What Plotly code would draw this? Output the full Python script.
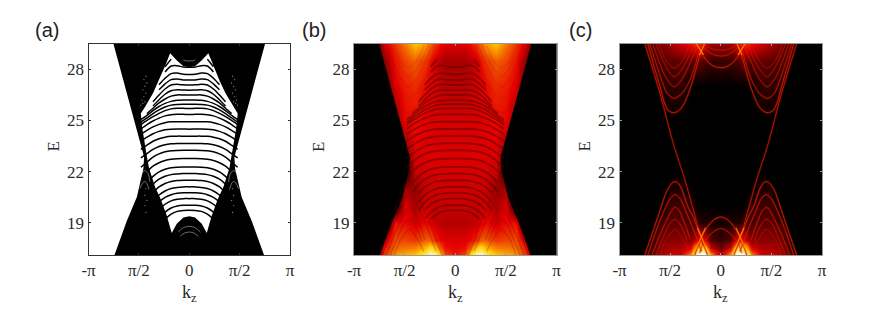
import plotly.graph_objects as go

# k is in units of pi, every curve is stored for k >= 0 and mirrored when drawn
tick_k = [-1, -0.5, 0, 0.5, 1]
tick_k_text = ["-π", "π/2", "0", "π/2", "π"]
tick_e = [19, 22, 25, 28]
panel_names = ["(a)", "(b)", "(c)"]

# edge of the filled hourglass
outer_k = [0.752, 0.683, 0.547, 0.448, 0.455, 0.52, 0.62, 0.742]
outer_e = [29.49, 27.96, 25.0, 22.86, 22.18, 20.5, 19.1, 17.1]

# edge of the gapped window in the middle
inner_k = [0.0, 0.06, 0.12, 0.19, 0.24, 0.30, 0.36, 0.438, 0.481, 0.465, 0.44, 0.415,
           0.398, 0.339, 0.285, 0.223, 0.174, 0.124, 0.058, 0.0]
inner_e = [28.12, 28.2, 28.5, 28.94, 28.2, 27.35, 26.6, 25.8, 25.41, 24.5, 23.65, 22.7,
           22.18, 21.1, 20.4, 19.4, 18.39, 18.94, 19.3, 19.37]

# sub-bands inside the window, one row per band
band_k = [0, 0.06, 0.12, 0.18, 0.24, 0.30, 0.36, 0.42, 0.48]
band_e = [
    [None, None, None, 28.6, 28.15, None, None, None, None],
    [28.12, 28.14, 28.22, 28.2, 27.85, None, None, None, None],
    [27.70, 27.72, 27.78, 27.75, 27.48, 27.1, None, None, None],
    [27.37, 27.38, 27.43, 27.4, 27.15, 26.8, None, None, None],
    [27.08, 27.09, 27.12, 27.08, 26.85, 26.5, 26.1, None, None],
    [26.78, 26.79, 26.8, 26.74, 26.54, 26.22, 25.85, None, None],
    [26.49, 26.5, 26.5, 26.43, 26.26, 26.03, 25.72, 25.4, None],
    [26.2, 26.2, 26.18, 26.12, 26.0, 25.82, 25.58, 25.3, 25.05],
    [25.95, 25.95, 25.94, 25.9, 25.79, 25.62, 25.4, 25.15, 24.9],
    [25.7, 25.71, 25.71, 25.68, 25.58, 25.42, 25.22, 25.0, 24.75],
    [25.35, 25.36, 25.36, 25.34, 25.27, 25.14, 24.97, 24.76, 24.5],
    [24.92, 24.93, 24.93, 24.92, 24.87, 24.77, 24.62, 24.42, 24.2],
    [24.49, 24.5, 24.5, 24.49, 24.45, 24.36, 24.22, 24.02, 23.8],
    [24.08, 24.08, 24.08, 24.07, 24.02, 23.93, 23.78, 23.55, 23.3],
    [23.65, 23.65, 23.65, 23.63, 23.58, 23.47, 23.3, 23.05, 22.8],
    [23.25, 23.25, 23.24, 23.22, 23.16, 23.04, 22.85, 22.55, 22.25],
    [22.76, 22.76, 22.75, 22.72, 22.65, 22.52, 22.32, 22.0, None],
    [22.27, 22.27, 22.26, 22.22, 22.14, 21.98, 21.72, 21.35, None],
    [21.88, 21.88, 21.86, 21.82, 21.72, 21.55, 21.25, 20.8, None],
    [21.49, 21.49, 21.47, 21.42, 21.3, 21.1, 20.75, None, None],
    [21.1, 21.1, 21.07, 21.0, 20.86, 20.62, 20.2, None, None],
    [20.75, 20.75, 20.72, 20.64, 20.48, 20.2, 19.7, None, None],
    [20.41, 20.41, 20.37, 20.28, 20.08, 19.75, None, None, None],
    [20.02, 20.02, 19.98, 19.86, 19.62, 19.25, None, None, None],
    [19.73, 19.72, 19.66, 19.5, 19.2, None, None, None, None],
]

# white hairlines left in the black parts of (a)
gap_k = [
    [0.0, 0.03, 0.06],
    [0.0, 0.06, 0.11],
    [0.0, 0.05, 0.09],
    [0.50, 0.46, 0.44, 0.41, 0.39],
    [0.49, 0.46, 0.44, 0.42, 0.40],
]
gap_e = [
    [28.5, 28.5, 28.56],
    [18.78, 18.7, 18.45],
    [18.45, 18.38, 18.2],
    [21.55, 22.0, 22.05, 21.9, 21.4],
    [21.0, 21.35, 21.42, 21.3, 20.95],
]
speck_k = [0.43, 0.45, 0.42, 0.44, 0.46, 0.43, 0.45, 0.47, 0.44, 0.46, 0.48, 0.43, 0.44, 0.42, 0.44, 0.43]
speck_e = [27.6, 27.4, 27.2, 27.0, 26.8, 26.6, 26.4, 26.2, 26.1, 26.0, 25.9, 21.0, 20.6, 20.3, 20.0, 19.6]

# arches and dishes of panel (c), (b) shows the same ones faintly
curve_k = [
    [0.749, 0.60, 0.469, 0.353, 0.27, 0.19, 0.10, 0.0],
    [0.75, 0.68, 0.60, 0.53, 0.47, 0.43, 0.38, 0.33, 0.27, 0.19, 0.13],
    [0.72, 0.64, 0.56, 0.50, 0.45, 0.40, 0.34, 0.27, 0.19],
    [0.68, 0.60, 0.53, 0.48, 0.45, 0.41, 0.36, 0.30],
    [0.64, 0.57, 0.51, 0.45, 0.39, 0.33],
    [0.60, 0.54, 0.45, 0.37, 0.31],
    [0.0, 0.06, 0.12, 0.19, 0.257],
    [0.0, 0.06, 0.12, 0.17, 0.21],
    [0.72, 0.65, 0.60, 0.56, 0.52, 0.47, 0.42, 0.37, 0.30, 0.25, 0.19],
    [0.70, 0.63, 0.58, 0.53, 0.46, 0.38, 0.31, 0.25, 0.20],
    [0.67, 0.60, 0.54, 0.46, 0.38, 0.31, 0.25, 0.21],
    [0.64, 0.57, 0.52, 0.46, 0.39, 0.32, 0.26],
    [0.61, 0.54, 0.46, 0.38, 0.31],
    [0.0, 0.06, 0.12, 0.19, 0.24],
    [0.0, 0.06, 0.12, 0.17, 0.22],
    [0.0, 0.06, 0.11, 0.16, 0.20],
]
curve_e = [
    [29.49, 26.59, 23.65, 21.49, 19.73, 18.15, 17.45, 17.2],
    [17.1, 18.3, 19.7, 20.9, 21.38, 21.38, 20.9, 20.0, 19.3, 18.0, 17.1],
    [17.1, 18.5, 19.7, 20.4, 20.65, 20.4, 19.6, 18.6, 17.3],
    [17.1, 18.3, 19.2, 19.75, 19.9, 19.7, 19.0, 18.0],
    [17.1, 18.1, 18.9, 19.2, 18.8, 17.9],
    [17.1, 18.0, 18.6, 18.0, 17.3],
    [19.33, 19.2, 18.85, 18.15, 17.1],
    [18.66, 18.52, 18.2, 17.8, 17.2],
    [29.49, 28.0, 27.0, 26.1, 25.6, 25.45, 25.55, 25.9, 26.9, 27.9, 29.2],
    [29.49, 28.2, 27.3, 26.6, 26.3, 26.6, 27.3, 28.3, 29.4],
    [29.49, 28.3, 27.5, 26.97, 27.45, 28.3, 29.1, 29.49],
    [29.49, 28.5, 27.95, 27.56, 27.95, 28.7, 29.49],
    [29.49, 28.5, 28.08, 28.5, 29.4],
    [28.1, 28.16, 28.4, 28.94, 29.49],
    [28.78, 28.84, 29.03, 29.3, 29.49],
    [29.13, 29.16, 29.27, 29.42, 29.49],
]
curve_alpha = [0.75, 0.85, 0.75, 0.65, 0.5, 0.35, 0.9, 0.65, 0.85, 0.7, 0.6, 0.5, 0.4, 0.85, 0.65, 0.55]

# hot crossings of (c)
cross_k = [
    [0.16, 0.21],
    [0.24, 0.17],
    [0.15, 0.23],
    [0.25, 0.15],
]
cross_e = [
    [29.49, 28.85],
    [29.49, 28.85],
    [17.6, 18.7],
    [17.4, 18.7],
]

# colour map values, rows go up in energy
heat_k = [0, 0.1, 0.15, 0.2, 0.25, 0.3, 0.4, 0.5, 0.6, 0.7, 0.8, 1.0]
heat_e = [17.1, 17.5, 18, 19, 20, 21, 22, 23, 25, 27, 28.5, 29.49]
heat_b = [
    [0.36, 0.45, 0.7, 0.9, 0.95, 0.8, 0.65, 0.62, 0.58, 0.42, 0.0, 0.0],
    [0.34, 0.36, 0.48, 0.66, 0.72, 0.62, 0.54, 0.52, 0.5, 0.36, 0.0, 0.0],
    [0.32, 0.32, 0.34, 0.4, 0.48, 0.48, 0.42, 0.44, 0.45, 0.27, 0.0, 0.0],
    [0.26, 0.26, 0.27, 0.28, 0.32, 0.35, 0.3, 0.35, 0.36, 0.0, 0.0, 0.0],
    [0.29, 0.29, 0.29, 0.28, 0.29, 0.3, 0.24, 0.32, 0.0, 0.0, 0.0, 0.0],
    [0.3, 0.3, 0.3, 0.3, 0.3, 0.28, 0.22, 0.24, 0.0, 0.0, 0.0, 0.0],
    [0.31, 0.31, 0.31, 0.31, 0.31, 0.31, 0.29, 0.0, 0.0, 0.0, 0.0, 0.0],
    [0.32, 0.32, 0.32, 0.32, 0.32, 0.32, 0.32, 0.18, 0.0, 0.0, 0.0, 0.0],
    [0.31, 0.31, 0.31, 0.31, 0.32, 0.33, 0.35, 0.34, 0.2, 0.0, 0.0, 0.0],
    [0.27, 0.27, 0.28, 0.3, 0.32, 0.35, 0.4, 0.38, 0.32, 0.1, 0.0, 0.0],
    [0.24, 0.24, 0.26, 0.3, 0.36, 0.42, 0.48, 0.44, 0.36, 0.2, 0.0, 0.0],
    [0.32, 0.32, 0.35, 0.42, 0.5, 0.58, 0.65, 0.52, 0.42, 0.3, 0.0, 0.0],
]
heat_c = [
    [0.25, 0.6, 1.0, 1.0, 0.95, 0.55, 0.3, 0.3, 0.25, 0.1, 0.0, 0.0],
    [0.15, 0.3, 0.72, 0.8, 0.62, 0.32, 0.25, 0.25, 0.2, 0.05, 0.0, 0.0],
    [0.08, 0.12, 0.3, 0.38, 0.28, 0.18, 0.2, 0.2, 0.16, 0.02, 0.0, 0.0],
    [0.03, 0.04, 0.05, 0.06, 0.08, 0.1, 0.13, 0.13, 0.08, 0.0, 0.0, 0.0],
    [0.0, 0.0, 0.0, 0.0, 0.02, 0.05, 0.09, 0.09, 0.0, 0.0, 0.0, 0.0],
    [0.0, 0.0, 0.0, 0.0, 0.0, 0.0, 0.04, 0.04, 0.0, 0.0, 0.0, 0.0],
    [0.0, 0.0, 0.0, 0.0, 0.0, 0.0, 0.0, 0.0, 0.0, 0.0, 0.0, 0.0],
    [0.0, 0.0, 0.0, 0.0, 0.0, 0.0, 0.0, 0.0, 0.0, 0.0, 0.0, 0.0],
    [0.0, 0.0, 0.0, 0.0, 0.0, 0.0, 0.0, 0.0, 0.0, 0.0, 0.0, 0.0],
    [0.0, 0.0, 0.0, 0.0, 0.0, 0.0, 0.07, 0.07, 0.03, 0.0, 0.0, 0.0],
    [0.08, 0.08, 0.1, 0.14, 0.12, 0.13, 0.14, 0.13, 0.1, 0.03, 0.0, 0.0],
    [0.22, 0.22, 0.3, 0.42, 0.42, 0.36, 0.3, 0.24, 0.18, 0.08, 0.0, 0.0],
]

E_RANGE = [17.1, 29.49]
W, H = 872, 326
panels = [(88.5, 290), (354, 556.5), (619.5, 822)]
label_x = [33, 300, 567]


def mirror(k, e):
    # left branch, then right branch, sharing k = 0 when the curve reaches it
    if k[0] == 0:
        return [-v for v in k[:0:-1]] + list(k), list(e[:0:-1]) + list(e)
    return [-v for v in k[::-1]] + [None] + list(k), list(e[::-1]) + [None] + list(e)


def mirror_row(row):
    return row[:0:-1] + row


def line(fig, k, e, color, width, ax, shape="spline"):
    x, y = mirror(k, e)
    fig.add_trace(go.Scatter(x=x, y=y, mode="lines", line=dict(color=color, width=width, shape=shape, smoothing=0.8),
                             xaxis="x" + ax, yaxis="y" + ax, hoverinfo="skip", connectgaps=False))


def fill(fig, x, y, color, ax):
    fig.add_trace(go.Scatter(x=x, y=y, mode="lines", fill="toself", fillcolor=color, line=dict(width=0),
                             xaxis="x" + ax, yaxis="y" + ax, hoverinfo="skip"))


def bands(fig, color, width, ax):
    for row in band_e:
        k = [a for a, b in zip(band_k, row) if b is not None]
        e = [b for b in row if b is not None]
        line(fig, k, e, color, width, ax)


def outside(fig, ax):
    # hides the colour map outside the hourglass
    fill(fig, outer_k + [1.0, 1.0], outer_e + [E_RANGE[0], E_RANGE[1]], "black", ax)
    fill(fig, [-v for v in outer_k] + [-1.0, -1.0], outer_e + [E_RANGE[0], E_RANGE[1]], "black", ax)


def heat(fig, rows, ax):
    fig.add_trace(go.Heatmap(x=[-v for v in heat_k[:0:-1]] + heat_k, y=heat_e, z=[mirror_row(r) for r in rows],
                             colorscale="Hot", zmin=0, zmax=1, zsmooth="best", showscale=False,
                             xaxis="x" + ax, yaxis="y" + ax, hoverinfo="skip"))


fig = go.Figure()

# (a)
ox = [-v for v in outer_k[::-1]] + outer_k
oy = outer_e[::-1] + outer_e
fill(fig, ox, oy, "black", "")
ix = [-v for v in inner_k[:0:-1]] + inner_k
iy = inner_e[:0:-1] + inner_e
fill(fig, ix, iy, "white", "")
bands(fig, "black", 1.5, "")
for k, e in zip(gap_k, gap_e):
    line(fig, k, e, "rgba(255,255,255,0.6)", 0.7, "")
sx, sy = mirror(speck_k, speck_e)
fig.add_trace(go.Scatter(x=sx, y=sy, mode="markers", marker=dict(color="rgba(255,255,255,0.5)", size=1.3),
                         hoverinfo="skip"))

# (b)
heat(fig, heat_b, "2")
outside(fig, "2")
for k, e in zip(curve_k[1:6], curve_e[1:6]):
    line(fig, k, e, "rgba(110,0,0,0.22)", 1.4, "2")
for k, e in zip(curve_k[8:13], curve_e[8:13]):
    line(fig, k, e, "rgba(120,0,0,0.1)", 1.2, "2")
bands(fig, "rgba(90,0,0,0.55)", 1.8, "2")

# (c)
heat(fig, heat_c, "3")
outside(fig, "3")
for k, e, a in zip(curve_k, curve_e, curve_alpha):
    line(fig, k, e, "rgba(200,15,0,%.2f)" % (a * 0.28), 2.6, "3")
    line(fig, k, e, "rgba(225,30,0,%.2f)" % a, 1, "3")
for k, e in zip(cross_k, cross_e):
    line(fig, k, e, "rgba(255,150,0,0.8)", 1.2, "3", shape="linear")

layout = dict(width=W, height=H, autosize=False, margin=dict(l=0, r=0, t=0, b=0),
              paper_bgcolor="white", plot_bgcolor="white", showlegend=False,
              font=dict(family="Liberation Serif", size=17, color="#2a2a2a"))
fig.update_layout(layout)

frame = ["#333333", "#999999", "#999999"]
for i, (x0, x1) in enumerate(panels):
    s = "" if i == 0 else str(i + 1)
    fig.update_layout({
        "xaxis" + s: dict(domain=[x0 / W, x1 / W], range=[-1, 1], anchor="y" + s, tickvals=tick_k, ticktext=tick_k_text,
                          automargin=False, ticks="inside", ticklen=2, tickcolor=frame[i], showgrid=False, zeroline=False,
                          mirror="allticks", showline=True, linecolor=frame[i], linewidth=1),
        "yaxis" + s: dict(domain=[1 - 255 / H, 1 - 44 / H], range=E_RANGE, anchor="x" + s, tickvals=tick_e,
                          automargin=False, ticks="inside", ticklen=2, tickcolor=frame[i], showgrid=False, zeroline=False,
                          mirror="allticks", showline=True, linecolor=frame[i], linewidth=1),
    })
    # axis titles placed by hand, the margins are zero so plotly would clamp them
    xc = (x0 + x1) / 2
    fig.add_annotation(text="k<sub>z</sub>", xref="paper", yref="paper", x=xc / W, y=1 - 293 / H, xanchor="center",
                       yanchor="middle", showarrow=False, font=dict(size=18))
    fig.add_annotation(text="E", xref="paper", yref="paper", x=(x0 - 36) / W, y=1 - 147 / H, xanchor="center",
                       yanchor="middle", showarrow=False, textangle=-90, font=dict(size=17))
    fig.add_annotation(text=panel_names[i], xref="paper", yref="paper", x=label_x[i] / W, y=1 - 30 / H, xanchor="left",
                       yanchor="middle", showarrow=False, font=dict(family="Liberation Sans", size=20, color="#222222"))

fig.write_html("out.html", post_script="document.body.style.margin='0';", config=dict(displayModeBar=False))
